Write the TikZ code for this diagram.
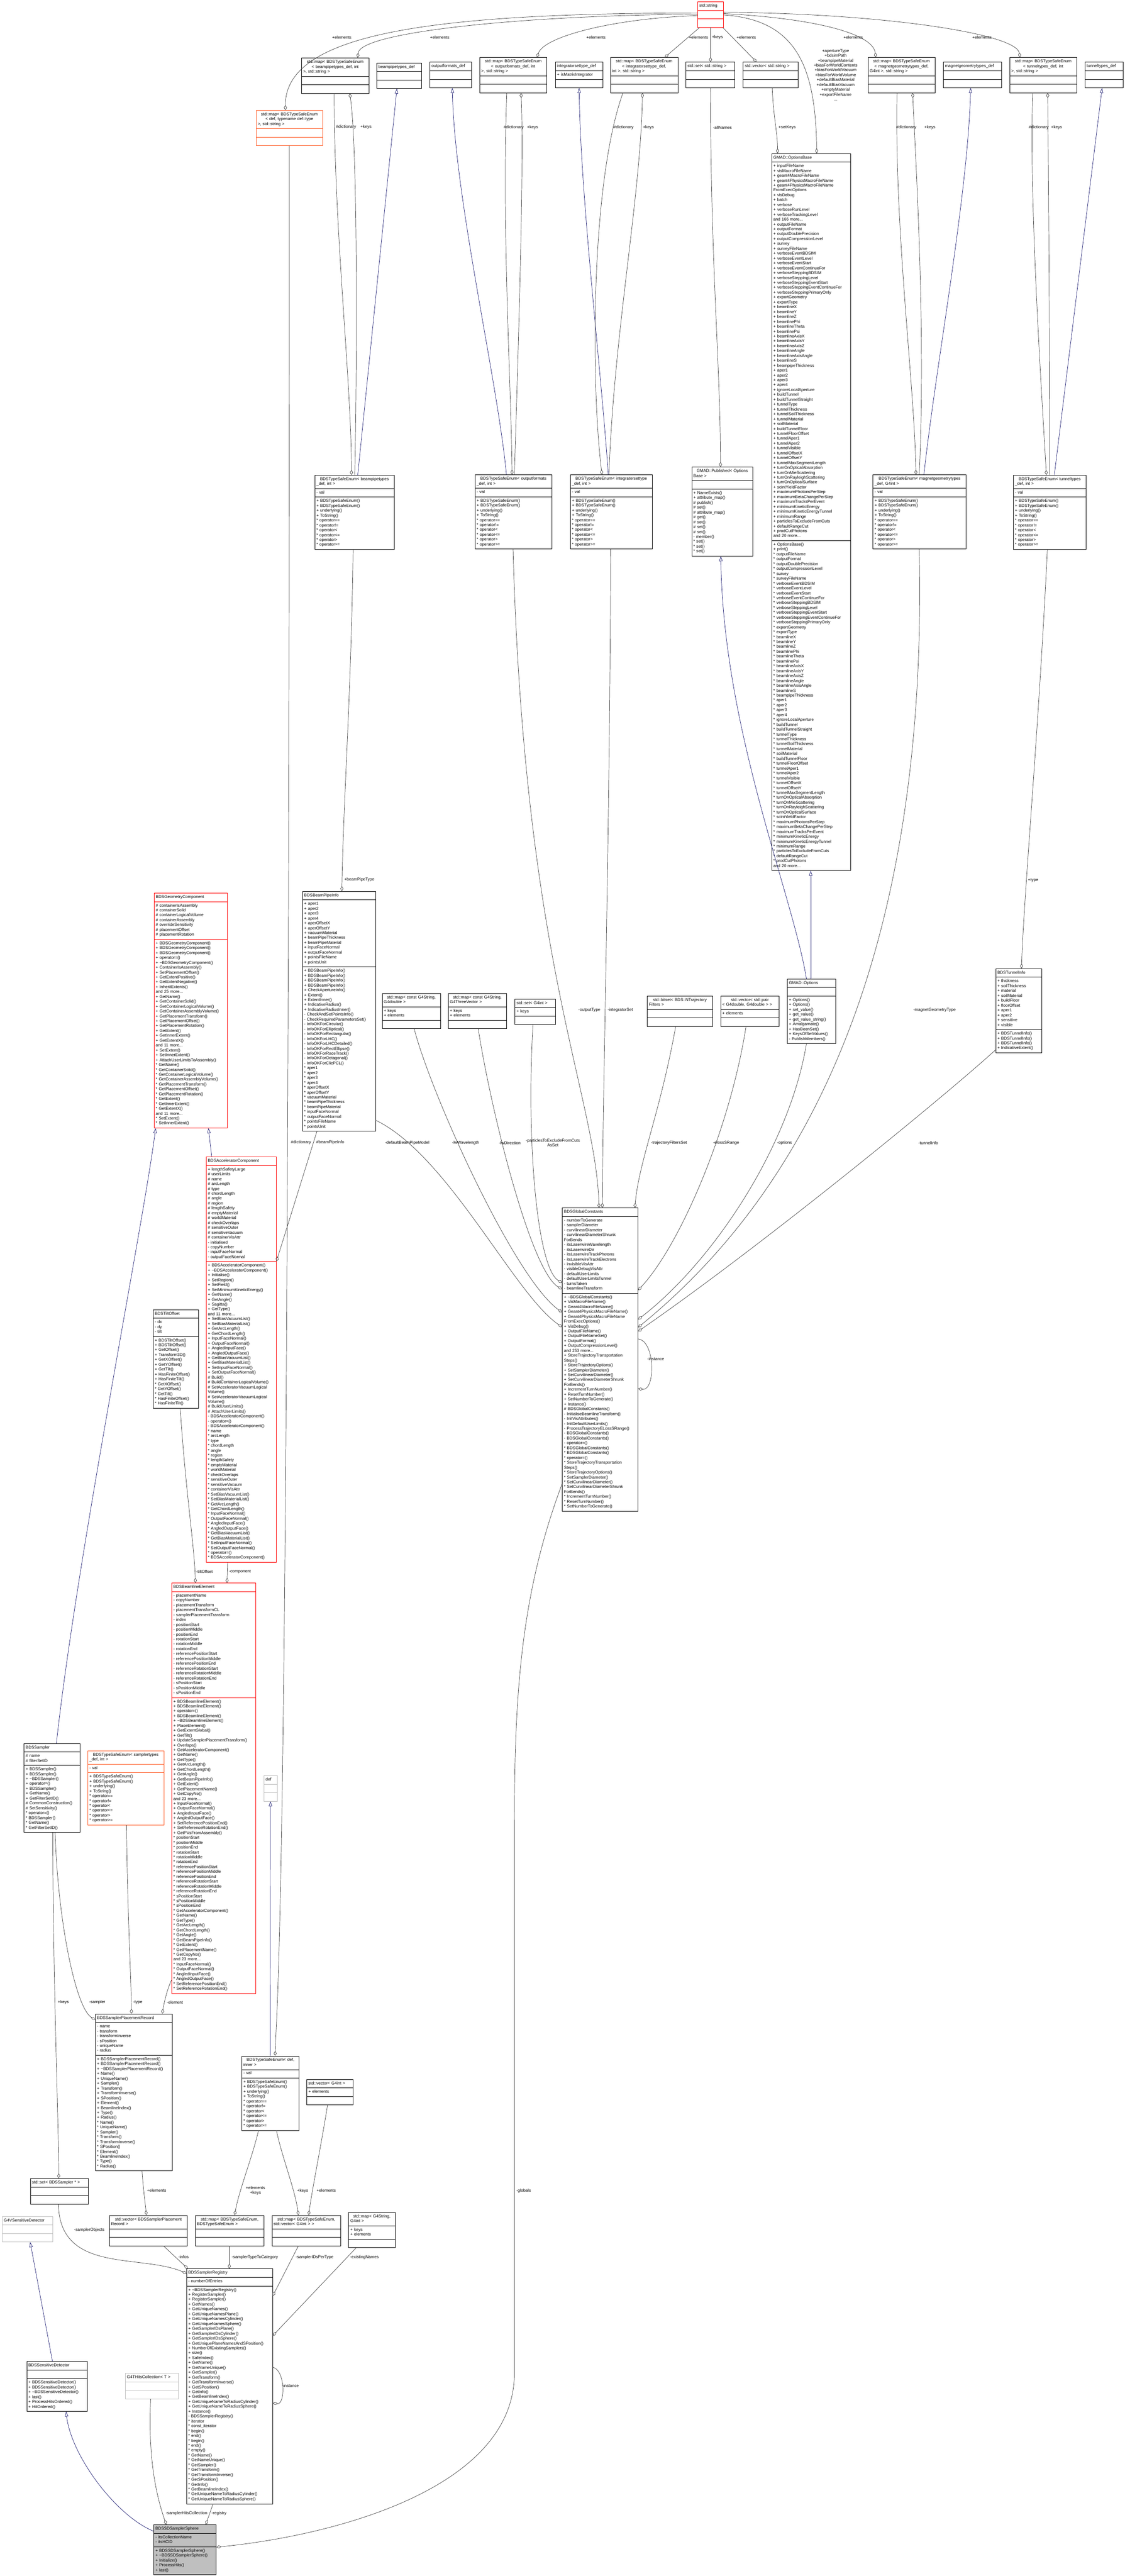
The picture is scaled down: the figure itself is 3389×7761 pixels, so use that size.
\documentclass[tikz,border=0pt]{standalone}
\usepackage{fontspec}
\setmainfont{Liberation Sans}
\usetikzlibrary{shapes.multipart,arrows.meta}
\definecolor{egray}{HTML}{404040}
\definecolor{eblue}{HTML}{191970}
\definecolor{cred}{HTML}{FF0000}
\definecolor{corange}{HTML}{FF5A24}
\definecolor{cgray}{HTML}{BFBFBF}
\newcommand\fs{\fontsize{12.5pt}{14.67pt}\selectfont}
\newcommand\Sx{\strut}
\newcommand\NL{\\\relax}
\newcommand\Tld{\textasciitilde}
\newcommand\EE{\nodepart{two}\Sx\nodepart{three}\Sx}
\newcommand\tseM{\Sx+ BDSTypeSafeEnum()\NL+ BDSTypeSafeEnum()\NL+ underlying()\NL+ ToString()\NL* operator==\NL* operator!=\NL* operator<\NL* operator<=\NL* operator>\NL* operator>=\Sx}
\newcommand\oblist[1]{#1 outputFileName\NL#1 outputFormat\NL#1 outputDoublePrecision\NL#1 outputCompressionLevel\NL#1 survey\NL#1 surveyFileName\NL#1 verboseEventBDSIM\NL#1 verboseEventLevel\NL#1 verboseEventStart\NL#1 verboseEventContinueFor\NL#1 verboseSteppingBDSIM\NL#1 verboseSteppingLevel\NL#1 verboseSteppingEventStart\NL#1 verboseSteppingEventContinueFor\NL#1 verboseSteppingPrimaryOnly\NL#1 exportGeometry\NL#1 exportType\NL#1 beamlineX\NL#1 beamlineY\NL#1 beamlineZ\NL#1 beamlinePhi\NL#1 beamlineTheta\NL#1 beamlinePsi\NL#1 beamlineAxisX\NL#1 beamlineAxisY\NL#1 beamlineAxisZ\NL#1 beamlineAngle\NL#1 beamlineAxisAngle\NL#1 beamlineS\NL#1 beampipeThickness\NL#1 aper1\NL#1 aper2\NL#1 aper3\NL#1 aper4\NL#1 ignoreLocalAperture\NL#1 buildTunnel\NL#1 buildTunnelStraight\NL#1 tunnelType\NL#1 tunnelThickness\NL#1 tunnelSoilThickness\NL#1 tunnelMaterial\NL#1 soilMaterial\NL#1 buildTunnelFloor\NL#1 tunnelFloorOffset\NL#1 tunnelAper1\NL#1 tunnelAper2\NL#1 tunnelVisible\NL#1 tunnelOffsetX\NL#1 tunnelOffsetY\NL#1 tunnelMaxSegmentLength\NL#1 turnOnOpticalAbsorption\NL#1 turnOnMieScattering\NL#1 turnOnRayleighScattering\NL#1 turnOnOpticalSurface\NL#1 scintYieldFactor\NL#1 maximumPhotonsPerStep\NL#1 maximumBetaChangePerStep\NL#1 maximumTracksPerEvent\NL#1 minimumKineticEnergy\NL#1 minimumKineticEnergyTunnel\NL#1 minimumRange\NL#1 particlesToExcludeFromCuts\NL#1 defaultRangeCut\NL#1 prodCutPhotons}
\tikzset{
  cls/.style={rectangle split, rectangle split parts=3, draw=black, fill=white, anchor=north west,
    inner xsep=5pt, inner ysep=5pt, align=left, font=\fs, line width=1pt},
  comp/.style={draw=egray, line width=1.1pt, -{Diamond[open,length=15pt,width=9pt,line width=1.1pt]}},
  inh/.style={draw=eblue, line width=1.1pt, -{Triangle[open,length=15pt,width=10pt,line width=1.1pt]}},
  lbl/.style={font=\fs, inner sep=0pt, align=center}
}
\begin{document}
\begin{tikzpicture}[x=1pt,y=-1pt]
\useasboundingbox (0,0) rectangle (3389,7761);
\fill[white] (0,0) rectangle (3389,7761);

% ---------- top row ----------
\node[cls, draw=cred, text width=68pt] (str) at (2102,5) {\centering\Sx std::string\Sx\EE};
\node[cls, draw=corange, text width=191pt] (mapOr) at (771,332) {\centering\Sx std::map< BDSTypeSafeEnum\NL< def, typename def::type\NL>, std::string >\Sx\EE};
\node[cls, text width=193pt] (mapBP) at (908,174) {\centering\Sx std::map< BDSTypeSafeEnum\NL< beampipetypes\_def, int\NL>, std::string >\Sx\EE};
\node[cls, text width=125pt] (bpdef) at (1135,189) {\centering\Sx beampipetypes\_def\Sx\EE};
\node[cls, text width=115pt] (ofdef) at (1295,187) {\centering\Sx outputformats\_def\Sx\EE};
\node[cls, text width=192pt] (mapOF) at (1445,173) {\centering\Sx std::map< BDSTypeSafeEnum\NL< outputformats\_def, int\NL>, std::string >\Sx\EE};
\node[cls, text width=133pt] (isdef) at (1673,187) {\centering\Sx integratorsettype\_def\Sx\nodepart{two}\Sx+ isMatrixIntegrator\Sx\nodepart{three}\Sx};
\node[cls, text width=193pt] (mapIS) at (1839,173) {\centering\Sx std::map< BDSTypeSafeEnum\NL< integratorsettype\_def,\NL int >, std::string >\Sx\EE};
\node[cls, text width=138pt] (setStr) at (2066,187) {\centering\Sx std::set< std::string >\Sx\EE};
\node[cls, text width=156pt] (vecStr) at (2239,187) {\centering\Sx std::vector< std::string >\Sx\EE};
\node[cls, text width=192pt] (mapMG) at (2615,173) {\centering\Sx std::map< BDSTypeSafeEnum\NL< magnetgeometrytypes\_def,\NL G4int >, std::string >\Sx\EE};
\node[cls, text width=166pt] (mgdef) at (2842,187) {\centering\Sx magnetgeometrytypes\_def\Sx\EE};
\node[cls, text width=192pt] (mapTT) at (3042,173) {\centering\Sx std::map< BDSTypeSafeEnum\NL< tunneltypes\_def, int\NL>, std::string >\Sx\EE};
\node[cls, text width=105pt] (ttdef) at (3269,187) {\centering\Sx tunneltypes\_def\Sx\EE};

% ---------- enums ----------
\node[cls, text width=229pt] (enumBP) at (948,1431) {\centering\Sx BDSTypeSafeEnum< beampipetypes\NL\_def, int >\Sx\nodepart{two}\Sx- val\Sx\nodepart{three}\tseM};
\node[cls, text width=221pt] (enumOF) at (1431,1430) {\centering\Sx BDSTypeSafeEnum< outputformats\NL\_def, int >\Sx\nodepart{two}\Sx- val\Sx\nodepart{three}\tseM};
\node[cls, text width=237pt] (enumIS) at (1718,1430) {\centering\Sx BDSTypeSafeEnum< integratorsettype\NL\_def, int >\Sx\nodepart{two}\Sx- val\Sx\nodepart{three}\tseM};
\node[cls, text width=271pt] (enumMG) at (2630,1430) {\centering\Sx BDSTypeSafeEnum< magnetgeometrytypes\NL\_def, G4int >\Sx\nodepart{two}\Sx- val\Sx\nodepart{three}\tseM};
\node[cls, text width=209pt] (enumTT) at (3053,1431) {\centering\Sx BDSTypeSafeEnum< tunneltypes\NL\_def, int >\Sx\nodepart{two}\Sx- val\Sx\nodepart{three}\tseM};

\node[cls, text width=174pt] (pub) at (2084,1407) {\centering\Sx GMAD::Published< Options\NL Base >\Sx\nodepart{two}\Sx\nodepart{three}\Sx+ NameExists()\NL+ attribute\_map()\NL\# publish()\NL\# set()\NL\# attribute\_map()\NL\# get()\NL\# set()\NL\# set()\NL\# set()\NL- member()\NL* set()\NL* set()\NL* set()\Sx};

\node[cls, text width=227pt] (ob) at (2325,462) {\centering\Sx GMAD::OptionsBase\Sx\nodepart{two}\Sx+ inputFileName\NL+ visMacroFileName\NL+ geant4MacroFileName\NL+ geant4PhysicsMacroFileName\NL+ geant4PhysicsMacroFileName\NL FromExecOptions\NL+ visDebug\NL+ batch\NL+ verbose\NL+ verboseRunLevel\NL+ verboseTrackingLevel\NL and 166 more...\NL\oblist{+}\NL and 20 more...\Sx\nodepart{three}\Sx+ OptionsBase()\NL+ print()\NL\oblist{*}\NL and 20 more...\Sx};

\node[cls, text width=135pt] (opts) at (2372,2949) {\centering\Sx GMAD::Options\Sx\nodepart{two}\Sx\nodepart{three}\Sx+ Options()\NL+ Options()\NL+ set\_value()\NL+ get\_value()\NL+ get\_value\_string()\NL+ Amalgamate()\NL+ HasBeenSet()\NL+ KeysOfSetValues()\NL- PublishMembers()\Sx};

\node[cls, text width=128pt] (tunnel) at (3000,2918) {\centering\Sx BDSTunnelInfo\Sx\nodepart{two}\Sx+ thickness\NL+ soilThickness\NL+ material\NL+ soilMaterial\NL+ buildFloor\NL+ floorOffset\NL+ aper1\NL+ aper2\NL+ sensitive\NL+ visible\Sx\nodepart{three}\Sx+ BDSTunnelInfo()\NL+ BDSTunnelInfo()\NL+ BDSTunnelInfo()\NL+ IndicativeExtent()\Sx};

% ---------- middle row of containers ----------
\node[cls, text width=166pt] (mapLW) at (1151,2992) {\centering\Sx std::map< const G4String,\NL G4double >\Sx\nodepart{two}\Sx+ keys\NL+ elements\Sx\nodepart{three}\Sx};
\node[cls, text width=166pt] (mapLD) at (1350,2992) {\centering\Sx std::map< const G4String,\NL G4ThreeVector >\Sx\nodepart{two}\Sx+ keys\NL+ elements\Sx\nodepart{three}\Sx};
\node[cls, text width=112pt] (setInt) at (1551,3009) {\centering\Sx std::set< G4int >\Sx\nodepart{two}\Sx+ keys\Sx\nodepart{three}\Sx};
\node[cls, text width=187pt] (bitset) at (1950,3000) {\centering\Sx std::bitset< BDS::NTrajectory\NL Filters >\Sx\EE};
\node[cls, text width=166pt] (vecPair) at (2171,3000) {\centering\Sx std::vector< std::pair\NL< G4double, G4double > >\Sx\nodepart{two}\Sx+ elements\Sx\nodepart{three}\Sx};

\node[cls, text width=210pt] (bpinfo) at (911,2685) {\centering\Sx BDSBeamPipeInfo\Sx\nodepart{two}\Sx+ aper1\NL+ aper2\NL+ aper3\NL+ aper4\NL+ aperOffsetX\NL+ aperOffsetY\NL+ vacuumMaterial\NL+ beamPipeThickness\NL+ beamPipeMaterial\NL+ inputFaceNormal\NL+ outputFaceNormal\NL+ pointsFileName\NL+ pointsUnit\Sx\nodepart{three}\Sx+ BDSBeamPipeInfo()\NL+ BDSBeamPipeInfo()\NL+ BDSBeamPipeInfo()\NL+ BDSBeamPipeInfo()\NL+ CheckApertureInfo()\NL+ Extent()\NL+ ExtentInner()\NL+ IndicativeRadius()\NL+ IndicativeRadiusInner()\NL- CheckAndSetPointsInfo()\NL- CheckRequiredParametersSet()\NL- InfoOKForCircular()\NL- InfoOKForElliptical()\NL- InfoOKForRectangular()\NL- InfoOKForLHC()\NL- InfoOKForLHCDetailed()\NL- InfoOKForRectEllipse()\NL- InfoOKForRaceTrack()\NL- InfoOKForOctagonal()\NL- InfoOKForClicPCL()\NL* aper1\NL* aper2\NL* aper3\NL* aper4\NL* aperOffsetX\NL* aperOffsetY\NL* vacuumMaterial\NL* beamPipeThickness\NL* beamPipeMaterial\NL* inputFaceNormal\NL* outputFaceNormal\NL* pointsFileName\NL* pointsUnit\Sx};

\node[cls, draw=cred, text width=211pt] (geom) at (464,2690) {\centering\Sx BDSGeometryComponent\Sx\nodepart{two}\Sx\# containerIsAssembly\NL\# containerSolid\NL\# containerLogicalVolume\NL\# containerAssembly\NL\# overrideSensitivity\NL\# placementOffset\NL\# placementRotation\Sx\nodepart{three}\Sx+ BDSGeometryComponent()\NL+ BDSGeometryComponent()\NL+ BDSGeometryComponent()\NL+ operator=()\NL+ \Tld BDSGeometryComponent()\NL+ ContainerIsAssembly()\NL+ SetPlacementOffset()\NL+ GetExtentPositive()\NL+ GetExtentNegative()\NL+ InheritExtents()\NL and 25 more...\NL+ GetName()\NL+ GetContainerSolid()\NL+ GetContainerLogicalVolume()\NL+ GetContainerAssemblyVolume()\NL+ GetPlacementTransform()\NL+ GetPlacementOffset()\NL+ GetPlacementRotation()\NL+ GetExtent()\NL+ GetInnerExtent()\NL+ GetExtentX()\NL and 11 more...\NL+ SetExtent()\NL+ SetInnerExtent()\NL+ AttachUserLimitsToAssembly()\NL* GetName()\NL* GetContainerSolid()\NL* GetContainerLogicalVolume()\NL* GetContainerAssemblyVolume()\NL* GetPlacementTransform()\NL* GetPlacementOffset()\NL* GetPlacementRotation()\NL* GetExtent()\NL* GetInnerExtent()\NL* GetExtentX()\NL and 11 more...\NL* SetExtent()\NL* SetInnerExtent()\Sx};

\node[cls, draw=cred, text width=201pt] (acc) at (621,3485) {\centering\Sx BDSAcceleratorComponent\Sx\nodepart{two}\Sx+ lengthSafetyLarge\NL\# userLimits\NL\# name\NL\# arcLength\NL\# type\NL\# chordLength\NL\# angle\NL\# region\NL\# lengthSafety\NL\# emptyMaterial\NL\# worldMaterial\NL\# checkOverlaps\NL\# sensitiveOuter\NL\# sensitiveVacuum\NL\# containerVisAttr\NL- initialised\NL- copyNumber\NL- inputFaceNormal\NL- outputFaceNormal\Sx\nodepart{three}\Sx+ BDSAcceleratorComponent()\NL+ \Tld BDSAcceleratorComponent()\NL+ Initialise()\NL+ SetRegion()\NL+ SetField()\NL+ SetMinimumKineticEnergy()\NL+ GetName()\NL+ GetAngle()\NL+ Sagitta()\NL+ GetType()\NL and 11 more...\NL+ SetBiasVacuumList()\NL+ SetBiasMaterialList()\NL+ GetArcLength()\NL+ GetChordLength()\NL+ InputFaceNormal()\NL+ OutputFaceNormal()\NL+ AngledInputFace()\NL+ AngledOutputFace()\NL+ GetBiasVacuumList()\NL+ GetBiasMaterialList()\NL+ SetInputFaceNormal()\NL+ SetOutputFaceNormal()\NL\# Build()\NL\# BuildContainerLogicalVolume()\NL\# SetAcceleratorVacuumLogical\NL Volume()\NL\# SetAcceleratorVacuumLogical\NL Volume()\NL\# BuildUserLimits()\NL\# AttachUserLimits()\NL- BDSAcceleratorComponent()\NL- operator=()\NL- BDSAcceleratorComponent()\NL* name\NL* arcLength\NL* type\NL* chordLength\NL* angle\NL* region\NL* lengthSafety\NL* emptyMaterial\NL* worldMaterial\NL* checkOverlaps\NL* sensitiveOuter\NL* sensitiveVacuum\NL* containerVisAttr\NL* SetBiasVacuumList()\NL* SetBiasMaterialList()\NL* GetArcLength()\NL* GetChordLength()\NL* InputFaceNormal()\NL* OutputFaceNormal()\NL* AngledInputFace()\NL* AngledOutputFace()\NL* GetBiasVacuumList()\NL* GetBiasMaterialList()\NL* SetInputFaceNormal()\NL* SetOutputFaceNormal()\NL* operator=()\NL* BDSAcceleratorComponent()\Sx};

\node[cls, text width=218pt] (gc) at (1694,3639) {\centering\Sx BDSGlobalConstants\Sx\nodepart{two}\Sx- numberToGenerate\NL- samplerDiameter\NL- curvilinearDiameter\NL- curvilinearDiameterShrunk\NL ForBends\NL- itsLaserwireWavelength\NL- itsLaserwireDir\NL- itsLaserwireTrackPhotons\NL- itsLaserwireTrackElectrons\NL- invisibleVisAttr\NL- visibleDebugVisAttr\NL- defaultUserLimits\NL- defaultUserLimitsTunnel\NL- turnsTaken\NL- beamlineTransform\Sx\nodepart{three}\Sx+ \Tld BDSGlobalConstants()\NL+ VisMacroFileName()\NL+ Geant4MacroFileName()\NL+ Geant4PhysicsMacroFileName()\NL+ Geant4PhysicsMacroFileName\NL FromExecOptions()\NL+ VisDebug()\NL+ OutputFileName()\NL+ OutputFileNameSet()\NL+ OutputFormat()\NL+ OutputCompressionLevel()\NL and 253 more...\NL+ StoreTrajectoryTransportation\NL Steps()\NL+ StoreTrajectoryOptions()\NL+ SetSamplerDiameter()\NL+ SetCurvilinearDiameter()\NL+ SetCurvilinearDiameterShrunk\NL ForBends()\NL+ IncrementTurnNumber()\NL+ ResetTurnNumber()\NL+ SetNumberToGenerate()\NL+ Instance()\NL\# BDSGlobalConstants()\NL- InitialiseBeamlineTransform()\NL- InitVisAttributes()\NL- InitDefaultUserLimits()\NL- ProcessTrajectoryELossSRange()\NL- BDSGlobalConstants()\NL- BDSGlobalConstants()\NL- operator=()\NL* BDSGlobalConstants()\NL* BDSGlobalConstants()\NL* operator=()\NL* StoreTrajectoryTransportation\NL Steps()\NL* StoreTrajectoryOptions()\NL* SetSamplerDiameter()\NL* SetCurvilinearDiameter()\NL* SetCurvilinearDiameterShrunk\NL ForBends()\NL* IncrementTurnNumber()\NL* ResetTurnNumber()\NL* SetNumberToGenerate()\Sx};

\node[cls, text width=126pt] (tilt) at (461,3945) {\centering\Sx BDSTiltOffset\Sx\nodepart{two}\Sx- dx\NL- dy\NL- tilt\Sx\nodepart{three}\Sx+ BDSTiltOffset()\NL+ BDSTiltOffset()\NL+ GetOffset()\NL+ Transform3D()\NL+ GetXOffset()\NL+ GetYOffset()\NL+ GetTilt()\NL+ HasFiniteOffset()\NL+ HasFiniteTilt()\NL* GetXOffset()\NL* GetYOffset()\NL* GetTilt()\NL* HasFiniteOffset()\NL* HasFiniteTilt()\Sx};

\node[cls, draw=cred, text width=243pt] (ble) at (517,4769) {\centering\Sx BDSBeamlineElement\Sx\nodepart{two}\Sx- placementName\NL- copyNumber\NL- placementTransform\NL- placementTransformCL\NL- samplerPlacementTransform\NL- index\NL- positionStart\NL- positionMiddle\NL- positionEnd\NL- rotationStart\NL- rotationMiddle\NL- rotationEnd\NL- referencePositionStart\NL- referencePositionMiddle\NL- referencePositionEnd\NL- referenceRotationStart\NL- referenceRotationMiddle\NL- referenceRotationEnd\NL- sPositionStart\NL- sPositionMiddle\NL- sPositionEnd\Sx\nodepart{three}\Sx+ BDSBeamlineElement()\NL+ BDSBeamlineElement()\NL+ operator=()\NL+ BDSBeamlineElement()\NL+ \Tld BDSBeamlineElement()\NL+ PlaceElement()\NL+ GetExtentGlobal()\NL+ GetTilt()\NL+ UpdateSamplerPlacementTransform()\NL+ Overlaps()\NL+ GetAcceleratorComponent()\NL+ GetName()\NL+ GetType()\NL+ GetArcLength()\NL+ GetChordLength()\NL+ GetAngle()\NL+ GetBeamPipeInfo()\NL+ GetExtent()\NL+ GetPlacementName()\NL+ GetCopyNo()\NL and 23 more...\NL+ InputFaceNormal()\NL+ OutputFaceNormal()\NL+ AngledInputFace()\NL+ AngledOutputFace()\NL+ SetReferencePositionEnd()\NL+ SetReferenceRotationEnd()\NL+ GetPVsFromAssembly()\NL* positionStart\NL* positionMiddle\NL* positionEnd\NL* rotationStart\NL* rotationMiddle\NL* rotationEnd\NL* referencePositionStart\NL* referencePositionMiddle\NL* referencePositionEnd\NL* referenceRotationStart\NL* referenceRotationMiddle\NL* referenceRotationEnd\NL* sPositionStart\NL* sPositionMiddle\NL* sPositionEnd\NL* GetAcceleratorComponent()\NL* GetName()\NL* GetType()\NL* GetArcLength()\NL* GetChordLength()\NL* GetAngle()\NL* GetBeamPipeInfo()\NL* GetExtent()\NL* GetPlacementName()\NL* GetCopyNo()\NL and 23 more...\NL* InputFaceNormal()\NL* OutputFaceNormal()\NL* AngledInputFace()\NL* AngledOutputFace()\NL* SetReferencePositionEnd()\NL* SetReferenceRotationEnd()\Sx};

% ---------- lower part ----------
\node[cls, text width=158pt] (sampler) at (72,5252) {\centering\Sx BDSSampler\Sx\nodepart{two}\Sx\# name\NL\# filterSetID\Sx\nodepart{three}\Sx+ BDSSampler()\NL+ BDSSampler()\NL+ \Tld BDSSampler()\NL+ operator=()\NL+ BDSSampler()\NL+ GetName()\NL+ GetFilterSetID()\NL\# CommonConstruction()\NL\# SetSensitivity()\NL* operator=()\NL* BDSSampler()\NL* GetName()\NL* GetFilterSetID()\Sx};
\node[cls, draw=corange, text width=219pt] (enumST) at (264,5274) {\centering\Sx BDSTypeSafeEnum< samplertypes\NL\_def, int >\Sx\nodepart{two}\Sx- val\Sx\nodepart{three}\tseM};
\node[cls, draw=cgray, text width=30pt] (defbox) at (795,5349) {\centering\Sx def\Sx\EE};
\node[cls, text width=221pt] (rec) at (287,6067) {\centering\Sx BDSSamplerPlacementRecord\Sx\nodepart{two}\Sx- name\NL- transform\NL- transformInverse\NL- sPosition\NL- uniqueName\NL- radius\Sx\nodepart{three}\Sx+ BDSSamplerPlacementRecord()\NL+ BDSSamplerPlacementRecord()\NL+ \Tld BDSSamplerPlacementRecord()\NL+ Name()\NL+ UniqueName()\NL+ Sampler()\NL+ Transform()\NL+ TransformInverse()\NL+ SPosition()\NL+ Element()\NL+ BeamlineIndex()\NL+ Type()\NL+ Radius()\NL* Name()\NL* UniqueName()\NL* Sampler()\NL* Transform()\NL* TransformInverse()\NL* SPosition()\NL* Element()\NL* BeamlineIndex()\NL* Type()\NL* Radius()\Sx};
\node[cls, text width=163pt] (enumDI) at (728,6194) {\centering\Sx BDSTypeSafeEnum< def,\NL inner >\Sx\nodepart{two}\Sx- val\Sx\nodepart{three}\tseM};
\node[cls, text width=130pt] (vecInt) at (924,6264) {\centering\Sx std::vector< G4int >\Sx\nodepart{two}\Sx+ elements\Sx\nodepart{three}\Sx};
\node[cls, text width=164pt] (setSampler) at (91,6563) {\centering\Sx std::set< BDSSampler * >\Sx\EE};
\node[cls, draw=cgray, text width=142pt] (g4vsd) at (6,6677) {\centering\Sx G4VSensitiveDetector\Sx\EE};
\node[cls, text width=225pt] (vecRec) at (329,6674) {\centering\Sx std::vector< BDSSamplerPlacement\NL Record >\Sx\EE};
\node[cls, text width=197pt] (mapEE) at (588,6674) {\centering\Sx std::map< BDSTypeSafeEnum,\NL BDSTypeSafeEnum >\Sx\EE};
\node[cls, text width=197pt] (mapEV) at (819,6674) {\centering\Sx std::map< BDSTypeSafeEnum,\NL std::vector< G4int > >\Sx\EE};
\node[cls, text width=130pt] (mapSI) at (1050,6665) {\centering\Sx std::map< G4String,\NL G4int >\Sx\nodepart{two}\Sx+ keys\NL+ elements\Sx\nodepart{three}\Sx};
\node[cls, text width=249pt] (reg) at (562,6835) {\centering\Sx BDSSamplerRegistry\Sx\nodepart{two}\Sx- numberOfEntries\Sx\nodepart{three}\Sx+ \Tld BDSSamplerRegistry()\NL+ RegisterSampler()\NL+ RegisterSampler()\NL+ GetNames()\NL+ GetUniqueNames()\NL+ GetUniqueNamesPlane()\NL+ GetUniqueNamesCylinder()\NL+ GetUniqueNamesSphere()\NL+ GetSamplerIDsPlane()\NL+ GetSamplerIDsCylinder()\NL+ GetSamplerIDsSphere()\NL+ GetUniquePlaneNamesAndSPosition()\NL+ NumberOfExistingSamplers()\NL+ size()\NL+ SafeIndex()\NL+ GetName()\NL+ GetNameUnique()\NL+ GetSampler()\NL+ GetTransform()\NL+ GetTransformInverse()\NL+ GetSPosition()\NL+ GetInfo()\NL+ GetBeamlineIndex()\NL+ GetUniqueNameToRadiusCylinder()\NL+ GetUniqueNameToRadiusSphere()\NL+ Instance()\NL- BDSSamplerRegistry()\NL* iterator\NL* const\_iterator\NL* begin()\NL* end()\NL* begin()\NL* end()\NL* empty()\NL* GetName()\NL* GetNameUnique()\NL* GetSampler()\NL* GetTransform()\NL* GetTransformInverse()\NL* GetSPosition()\NL* GetInfo()\NL* GetBeamlineIndex()\NL* GetUniqueNameToRadiusCylinder()\NL* GetUniqueNameToRadiusSphere()\Sx};
\node[cls, text width=173pt] (sd) at (80,7114) {\centering\Sx BDSSensitiveDetector\Sx\nodepart{two}\Sx\nodepart{three}\Sx+ BDSSensitiveDetector()\NL+ BDSSensitiveDetector()\NL+ \Tld BDSSensitiveDetector()\NL+ last()\NL+ ProcessHitsOrdered()\NL+ HitOrdered()\Sx};
\node[cls, draw=cgray, text width=150pt] (hits) at (377,7150) {\centering\Sx G4THitsCollection< T >\Sx\EE};
\node[cls, fill=cgray, text width=178pt] (sphere) at (463,7606) {\centering\Sx BDSSDSamplerSphere\Sx\nodepart{two}\Sx- itsCollectionName\NL- itsHCID\Sx\nodepart{three}\Sx+ BDSSDSamplerSphere()\NL+ \Tld BDSSDSamplerSphere()\NL+ Initialize()\NL+ ProcessHits()\NL+ last()\Sx};

% ---------- connectors: std::string ----------
\draw[comp] ([yshift=-38pt]str.north west) .. controls (1600,45) and (1085,95) .. ([xshift=170pt]mapBP.north west);
\draw[comp] ([yshift=-34pt]str.north west) .. controls (1300,40) and (858,100) .. ([xshift=89pt]mapOr.north west);
\draw[comp] ([yshift=-42pt]str.north west) .. controls (1850,55) and (1640,110) .. ([xshift=173pt]mapOF.north west);
\draw[comp] ([xshift=6pt]str.south west) -- ([xshift=164pt]mapIS.north west);
\draw[comp] ([xshift=39pt]str.south west) -- ([xshift=75pt]setStr.north west);
\draw[comp] ([xshift=76pt]str.south west) -- ([xshift=41pt]vecStr.north west);
\draw[comp] ([yshift=-40pt]str.north east) .. controls (2400,60) and (2458,200) .. ([xshift=136pt]ob.north west);
\draw[comp] ([yshift=-36pt]str.north east) .. controls (2450,55) and (2630,100) .. ([xshift=24pt]mapMG.north west);
\draw[comp] ([yshift=-32pt]str.north east) .. controls (2650,40) and (3060,100) .. ([xshift=32pt]mapTT.north west);

% ---------- maps <-> enums ----------
\draw[comp] ([xshift=99pt]mapBP.south west) .. controls (1007,700) and (1059,1150) .. ([xshift=111pt]enumBP.north west);
\draw[comp] ([xshift=121pt]enumBP.north west) .. controls (1076,1100) and (1078,450) .. ([xshift=146pt]mapBP.south west);
\draw[inh] ([xshift=130pt]enumBP.north west) -- ([xshift=61pt]bpdef.south west);

\draw[inh] ([xshift=95pt]enumOF.north west) .. controls (1500,1150) and (1370,600) .. ([xshift=68pt]ofdef.south west);
\draw[comp] ([xshift=82pt]mapOF.south west) .. controls (1512,700) and (1540,1150) .. ([xshift=112pt]enumOF.north west);
\draw[comp] ([xshift=119pt]enumOF.north west) .. controls (1560,1100) and (1580,500) .. ([xshift=125pt]mapOF.south west);

\draw[inh] ([xshift=115pt]enumIS.north west) .. controls (1810,1100) and (1750,600) .. ([xshift=72pt]isdef.south west);
\draw[comp] ([xshift=38pt]mapIS.south west) .. controls (1780,550) and (1780,1150) .. ([xshift=96pt]enumIS.north west);
\draw[comp] ([xshift=117pt]enumIS.north west) .. controls (1850,1000) and (1930,600) .. ([xshift=97pt]mapIS.south west);

\draw[inh] ([xshift=154pt]enumMG.north west) .. controls (2820,1100) and (2915,600) .. ([xshift=83pt]mgdef.south west);
\draw[comp] ([xshift=88pt]mapMG.south west) .. controls (2695,700) and (2755,1150) .. ([xshift=130pt]enumMG.north west);
\draw[comp] ([xshift=140pt]enumMG.north west) .. controls (2790,1000) and (2760,500) .. ([xshift=135pt]mapMG.south west);

\draw[inh] ([xshift=124pt]enumTT.north west) -- ([xshift=52pt]ttdef.south west);
\draw[comp] ([xshift=70pt]mapTT.south west) .. controls (3100,600) and (3140,1200) .. ([xshift=100pt]enumTT.north west);
\draw[comp] ([xshift=110pt]enumTT.north west) .. controls (3163,1000) and (3160,600) .. ([xshift=115pt]mapTT.south west);

\draw[comp] ([xshift=75pt]setStr.south west) .. controls (2141,800) and (2171,1100) .. ([xshift=87pt]pub.north west);
\draw[comp] ([xshift=88pt]vecStr.south west) .. controls (2330,350) and (2343,400) .. ([xshift=18pt]ob.north west);

\draw[inh] ([xshift=71pt]opts.north west) -- ([xshift=118pt]ob.south west);
\draw[inh] ([xshift=58pt]opts.north west) .. controls (2390,2700) and (2180,2200) .. ([xshift=88pt]pub.south west);

\draw[comp] ([xshift=103pt]enumTT.south west) .. controls (3130,2200) and (3085,2700) .. ([xshift=78pt]tunnel.north west);
\draw[comp] ([xshift=116pt]enumBP.south west) .. controls (1058,2100) and (1035,2400) .. ([xshift=119pt]bpinfo.north west);

% ---------- geometry ----------
\draw[inh] ([xshift=17pt]acc.north west) -- ([xshift=164pt]geom.south west);
\draw[inh] ([xshift=98pt]sampler.north west) .. controls (230,4700) and (430,3700) .. ([xshift=5pt]geom.south west);
\draw[comp] ([xshift=44pt]bpinfo.south west) -- ([yshift=-315pt]acc.north east);
\draw[comp] ([xshift=101pt]mapOr.south west) .. controls (872,5900) and (832,6050) .. ([xshift=101pt]enumDI.north west);
\draw[inh] ([xshift=86pt]enumDI.north west) -- ([xshift=20pt]defbox.south west);

% ---------- global constants ----------
\draw[comp] ([yshift=-690pt]bpinfo.north east) .. controls (1350,3480) and (1550,3900) .. ([yshift=-359pt]gc.north west);
\draw[comp] ([xshift=97pt]mapLW.south west) .. controls (1300,3300) and (1550,3850) .. ([yshift=-315pt]gc.north west);
\draw[comp] ([xshift=91pt]mapLD.south west) .. controls (1480,3350) and (1600,3830) .. ([yshift=-245pt]gc.north west);
\draw[comp] ([xshift=55pt]setInt.south west) .. controls (1585,3450) and (1620,3820) .. ([yshift=-226pt]gc.north west);
\draw[comp] ([xshift=115pt]enumOF.south west) .. controls (1580,2900) and (1795,3300) .. ([xshift=111pt]gc.north west);
\draw[comp] ([xshift=122pt]enumIS.south west) .. controls (1838,2500) and (1816,3300) .. ([xshift=121pt]gc.north west);
\draw[comp] ([xshift=86pt]bitset.south west) .. controls (1990,3350) and (1925,3500) .. ([xshift=219pt]gc.north west);
\draw[comp] ([xshift=77pt]vecPair.south west) .. controls (2200,3400) and (2050,3750) .. ([yshift=-248pt]gc.north east);
\draw[comp] ([xshift=58pt]opts.south west) .. controls (2380,3450) and (2150,3800) .. ([yshift=-336pt]gc.north east);
\draw[comp] ([xshift=140pt]enumMG.south west) .. controls (2800,3000) and (2350,3650) .. ([yshift=-360pt]gc.north east);
\draw[comp] ([yshift=-245pt]tunnel.north west) .. controls (2850,3300) and (2300,3750) .. ([yshift=-372pt]gc.north east);
\draw[comp] ([yshift=-395pt]gc.north east) .. controls (1975,4040) and (1975,4190) .. ([yshift=-545pt]gc.north east);
\draw[comp] ([yshift=-831pt]gc.north west) .. controls (1570,4800) and (1550,5100) .. (1550,5500) -- (1550,7150) .. controls (1550,7500) and (1000,7640) .. ([yshift=-68pt]sphere.north east);

% ---------- beamline element ----------
\draw[comp] ([xshift=82pt]tilt.south west) .. controls (560,4500) and (585,4650) .. ([xshift=72pt]ble.north west);
\draw[comp] ([xshift=65pt]acc.south west) -- ([xshift=167pt]ble.north west);

% ---------- sampler registry ----------
\draw[comp] ([xshift=87pt]sampler.south west) .. controls (160,6000) and (177,6400) .. ([xshift=86pt]setSampler.north west);
\draw[comp] ([xshift=94pt]sampler.south west) .. controls (175,5800) and (230,6050) .. ([yshift=-18pt]rec.north west);
\draw[comp] ([xshift=117pt]enumST.south west) .. controls (385,5800) and (395,5950) .. ([xshift=109pt]rec.north west);
\draw[comp] ([yshift=-1196pt]ble.north west) .. controls (505,5990) and (495,6030) .. ([xshift=202pt]rec.north west);
\draw[comp] ([xshift=141pt]rec.south west) .. controls (432,6600) and (438,6640) .. ([xshift=112pt]vecRec.north west);
\draw[comp] ([xshift=51pt]enumDI.south west) .. controls (760,6500) and (720,6600) .. ([xshift=119pt]mapEE.north west);
\draw[comp] ([xshift=105pt]enumDI.south west) .. controls (850,6500) and (890,6600) .. ([xshift=80pt]mapEV.north west);
\draw[comp] ([xshift=63pt]vecInt.south west) .. controls (970,6450) and (940,6600) .. ([xshift=111pt]mapEV.north west);

\draw[comp] ([xshift=85pt]setSampler.south west) .. controls (180,6850) and (420,6790) .. ([yshift=-14pt]reg.north west);
\draw[comp] ([xshift=164pt]vecRec.south west) -- ([xshift=4pt]reg.north west);
\draw[comp] ([xshift=103pt]mapEE.south west) -- ([xshift=129pt]reg.north west);
\draw[comp] ([xshift=80pt]mapEV.south west) -- ([yshift=-82pt]reg.north east);
\draw[comp] ([xshift=23pt]mapSI.south west) -- ([yshift=-202pt]reg.north east);
\draw[comp] ([yshift=-297pt]reg.north east) .. controls (860,7140) and (860,7245) .. ([yshift=-405pt]reg.north east);

\draw[inh] ([xshift=78pt]sd.north west) -- ([xshift=85pt]g4vsd.south west);
\draw[inh] ([yshift=-20pt]sphere.north west) .. controls (350,7580) and (215,7400) .. ([xshift=119pt]sd.south west);
\draw[comp] ([xshift=77pt]hits.south west) .. controls (445,7420) and (475,7530) .. ([xshift=38pt]sphere.north west);
\draw[comp] ([xshift=80pt]reg.south west) -- ([xshift=157pt]sphere.north west);

% ---------- labels ----------
\node[lbl] (l1) at (1325,113) {+elements};
\node[lbl] (l2) at (1030,112) {+elements};
\node[lbl] (l3) at (1796,113) {+elements};
\node[lbl] (l4) at (2105,113) {+elements};
\node[lbl] (l5) at (2162,113) {+keys};
\node[lbl] (l6) at (2249,113) {+elements};
\node[lbl] (l7) at (2518,226) {+apertureType\NL+bdsimPath\NL+beampipeMaterial\NL+biasForWorldContents\NL+biasForWorldVacuum\NL+biasForWorldVolume\NL+defaultBiasMaterial\NL+defaultBiasVacuum\NL+emptyMaterial\NL+exportFileName\NL...};
\node[lbl] (l8) at (2571,113) {+elements};
\node[lbl] (l9) at (2959,113) {+elements};
\node[lbl] (l10) at (1043,382) {\#dictionary};
\node[lbl] (l11) at (1103,382) {+keys};
\node[lbl] (l12) at (1548,384) {\#dictionary};
\node[lbl] (l13) at (1605,384) {+keys};
\node[lbl] (l14) at (1879,384) {\#dictionary};
\node[lbl] (l15) at (1954,384) {+keys};
\node[lbl] (l16) at (2177,384) {-allNames};
\node[lbl] (l17) at (2372,384) {+setKeys};
\node[lbl] (l18) at (2731,384) {\#dictionary};
\node[lbl] (l19) at (2802,384) {+keys};
\node[lbl] (l20) at (3130,384) {\#dictionary};
\node[lbl] (l21) at (3184,384) {+keys};
\node[lbl] (l22) at (1083,2650) {+beamPipeType};
\node[lbl] (l23) at (3113,2652) {+type};
\node[lbl] (l24) at (1776,3043) {-outputType};
\node[lbl] (l25) at (1869,3043) {-integratorSet};
\node[lbl] (l26) at (2816,3043) {-magnetGeometryType};
\node[lbl] (l27) at (1227,3443) {-defaultBeamPipeModel};
\node[lbl] (l28) at (1403,3443) {-lwWavelength};
\node[lbl] (l29) at (1536,3443) {-lwDirection};
\node[lbl] (l30) at (1666,3443) {-particlesToExcludeFromCuts\NL AsSet};
\node[lbl] (l31) at (2016,3443) {-trajectoryFiltersSet};
\node[lbl] (l32) at (2188,3443) {-elossSRange};
\node[lbl] (l33) at (2364,3443) {-options};
\node[lbl] (l34) at (2797,3443) {-tunnelInfo};
\node[lbl] (l35) at (907,3442) {\#dictionary};
\node[lbl] (l36) at (995,3442) {\#beamPipeInfo};
\node[lbl] (l37) at (1976,4094) {-instance};
\node[lbl] (l38) at (616,4735) {-tiltOffset};
\node[lbl] (l39) at (723,4735) {-component};
\node[lbl] (l40) at (191,6033) {+keys};
\node[lbl] (l41) at (293,6033) {-sampler};
\node[lbl] (l42) at (415,6033) {-type};
\node[lbl] (l43) at (527,6033) {-element};
\node[lbl] (l44) at (472,6600) {+elements};
\node[lbl] (l45) at (770,6600) {+elements\NL+keys};
\node[lbl] (l46) at (912,6600) {+keys};
\node[lbl] (l47) at (983,6600) {+elements};
\node[lbl] (l48) at (269,6718) {-samplerObjects};
\node[lbl] (l49) at (553,6800) {-infos};
\node[lbl] (l50) at (768,6800) {-samplerTypeToCategory};
\node[lbl] (l51) at (948,6800) {-samplerIDsPerType};
\node[lbl] (l52) at (1098,6800) {-existingNames};
\node[lbl] (l53) at (875,7188) {-instance};
\node[lbl] (l54) at (562,7572) {-samplerHitsCollection};
\node[lbl] (l55) at (660,7572) {-registry};
\node[lbl] (l56) at (1578,6601) {-globals};
\end{tikzpicture}
\end{document}
